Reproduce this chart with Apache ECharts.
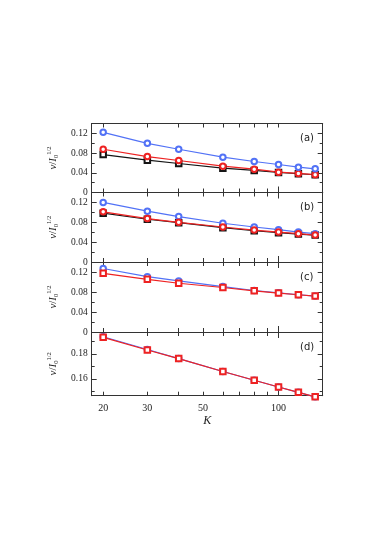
<!DOCTYPE html>
<html>
<head>
<meta charset="utf-8">
<script src="https://cdn.jsdelivr.net/npm/echarts@6/dist/echarts.min.js"></script>
<style>
  html, body { margin: 0; padding: 0; background: #fff; }
  #chart { width: 381px; height: 539px; }
</style>
</head>
<body>
<div id="chart"></div>
<script>
// K values (log x axis)
const K = [20, 30, 40, 60, 80, 100, 120, 140];
const xTicks = [20, 30, 40, 50, 60, 70, 80, 90, 100];
const xLabels = [20, 30, 50, 100];

// panel (a)
const blueA = [0.122, 0.0998, 0.0877, 0.0716, 0.0629, 0.0568, 0.0514, 0.0481];
const redA = [0.0877, 0.0729, 0.0649, 0.0534, 0.0474, 0.0413, 0.0387, 0.0362];
const blackA = [0.077, 0.0655, 0.0588, 0.0494, 0.0447, 0.0407, 0.038, 0.036];
// panel (b)
const blueB = [0.12, 0.1024, 0.0915, 0.078, 0.0705, 0.0651, 0.0603, 0.057];
const redB = [0.101, 0.0875, 0.08, 0.0705, 0.0644, 0.0603, 0.057, 0.0542];
const blackB = [0.0983, 0.0861, 0.0793, 0.0692, 0.063, 0.059, 0.0563, 0.0542];
// panel (c)
const blueC = [0.127, 0.1107, 0.1021, 0.0909, 0.083, 0.0784, 0.0745, 0.0718];
const redC = [0.1173, 0.1054, 0.0975, 0.089, 0.0824, 0.0778, 0.0745, 0.0718];
// panel (d)
const blueD = [0.1937, 0.1835, 0.1762, 0.1659, 0.1589, 0.1535, 0.1492, 0.1456];
const redD = [0.1932, 0.1831, 0.1762, 0.1659, 0.1589, 0.1535, 0.1492, 0.1456];

// y ticks
const yMajorABC = [0, 0.04, 0.08, 0.12];
const yMinorABC = [0.02, 0.06, 0.10, 0.14];
const yMajorD = [0.16, 0.18];
const yMinorD = [0.15, 0.17, 0.19];

const BLUE = '#5272f6';
const RED = '#ee2222';
const BLACK = '#151515';
const AX = '#333333';
const SERIF = '"Liberation Serif", "DejaVu Serif", serif';

// panel layout (px)
const panels = [
  { top: 123.5, height: 69, min: 0, max: 0.14, major: yMajorABC, minor: yMinorABC, tag: '(a)',
    lines: [[blackA, BLACK, 'emptyRect'], [redA, RED, 'emptyCircle'], [blueA, BLUE, 'emptyCircle']] },
  { top: 192.5, height: 69.5, min: 0, max: 0.14, major: yMajorABC, minor: yMinorABC, tag: '(b)',
    lines: [[blackB, BLACK, 'emptyRect'], [blueB, BLUE, 'emptyCircle'], [redB, RED, 'emptyCircle']] },
  { top: 262, height: 70, min: 0, max: 0.14, major: yMajorABC, minor: yMinorABC, tag: '(c)',
    lines: [[blueC, BLUE, 'emptyCircle'], [redC, RED, 'emptyRect']] },
  { top: 332, height: 63.7, min: 0.1465, max: 0.1975, major: yMajorD, minor: yMinorD, tag: '(d)',
    lines: [[blueD, BLUE, 'emptyCircle'], [redD, RED, 'emptyRect']] }
];

const LEFT = 91.7, WIDTH = 231;

const grid = [], xAxis = [], yAxis = [], series = [], graphic = [];

function yFmt (v) {
  if (v === 0) return '0';
  return v.toFixed(2);
}

panels.forEach((p, i) => {
  const last = i === panels.length - 1;
  grid.push({ left: LEFT, top: p.top, width: WIDTH, height: p.height, show: false, containLabel: false });

  // bottom x axis
  const xb = xAxis.length;
  xAxis.push({
    type: 'log', logBase: 10, min: 18, max: 150, gridIndex: i, position: 'bottom',
    axisLine: { onZero: false, lineStyle: { color: AX, width: 1 } },
    axisTick: { inside: true, length: 4, customValues: xTicks, lineStyle: { color: AX } },
    axisLabel: { show: last, customValues: xLabels, margin: 8, fontFamily: SERIF, fontSize: 10, color: '#222' },
    splitLine: { show: false },
    name: last ? 'K' : '', nameLocation: 'middle', nameGap: 17,
    nameTextStyle: { fontFamily: SERIF, fontStyle: 'italic', fontSize: 12, color: '#222' }
  });
  // top x axis
  xAxis.push({
    type: 'log', logBase: 10, min: 18, max: 150, gridIndex: i, position: 'top',
    axisLine: { onZero: false, lineStyle: { color: AX, width: 1 } },
    axisTick: { inside: true, length: 4, customValues: xTicks, lineStyle: { color: AX } },
    axisLabel: { show: false },
    splitLine: { show: false }
  });
  // longer ticks at 100
  ['bottom', 'top'].forEach(pos => {
    xAxis.push({
      type: 'log', logBase: 10, min: 18, max: 150, gridIndex: i, position: pos,
      axisLine: { show: false },
      axisTick: { inside: true, length: 6, customValues: [100], lineStyle: { color: AX } },
      axisLabel: { show: false },
      splitLine: { show: false }
    });
  });

  // left major y axis
  const yl = yAxis.length;
  yAxis.push({
    type: 'value', min: p.min, max: p.max, gridIndex: i, position: 'left',
    axisLine: { onZero: false, lineStyle: { color: AX, width: 1 } },
    axisTick: { inside: true, length: 5, customValues: p.major, lineStyle: { color: AX } },
    axisLabel: { customValues: p.major, formatter: yFmt, margin: 4, fontFamily: SERIF, fontSize: 9.5, color: '#222' },
    splitLine: { show: false },
    name: '{v|ν}{s|/}{i|I}{sub|0}{sup|1/2}',
    nameLocation: 'middle', nameGap: 22, nameRotate: 90,
    nameTextStyle: {
      rich: {
        v: { fontFamily: SERIF, fontStyle: 'italic', fontSize: 11, color: '#222', lineHeight: 14 },
        s: { fontFamily: SERIF, fontSize: 11, color: '#222', lineHeight: 14 },
        i: { fontFamily: SERIF, fontStyle: 'italic', fontSize: 11, color: '#222', lineHeight: 14 },
        sub: { fontFamily: SERIF, fontSize: 6.5, color: '#222', verticalAlign: 'bottom', lineHeight: 14 },
        sup: { fontFamily: SERIF, fontSize: 6.5, color: '#222', verticalAlign: 'top', lineHeight: 14 }
      }
    }
  });
  // left minor ticks
  yAxis.push({
    type: 'value', min: p.min, max: p.max, gridIndex: i, position: 'left',
    axisLine: { show: false },
    axisTick: { inside: true, length: 3, customValues: p.minor, lineStyle: { color: AX } },
    axisLabel: { show: false }, splitLine: { show: false }
  });
  // right major / minor ticks
  yAxis.push({
    type: 'value', min: p.min, max: p.max, gridIndex: i, position: 'right',
    axisLine: { onZero: false, lineStyle: { color: AX, width: 1 } },
    axisTick: { inside: true, length: 5, customValues: p.major, lineStyle: { color: AX } },
    axisLabel: { show: false }, splitLine: { show: false }
  });
  yAxis.push({
    type: 'value', min: p.min, max: p.max, gridIndex: i, position: 'right',
    axisLine: { show: false },
    axisTick: { inside: true, length: 3, customValues: p.minor, lineStyle: { color: AX } },
    axisLabel: { show: false }, splitLine: { show: false }
  });

  p.lines.forEach(([vals, color, symbol]) => {
    series.push({
      type: 'line', xAxisIndex: xb, yAxisIndex: yl,
      data: K.map((k, j) => [k, vals[j]]),
      symbol: symbol, symbolSize: 5.5, showSymbol: true,
      clip: false,
      lineStyle: { color: color, width: 1.2 },
      itemStyle: { color: color, borderColor: color, borderWidth: 0.8 },
      animation: false, silent: true
    });
  });

  graphic.push({
    type: 'text', left: 300, top: p.top + 10,
    style: { text: p.tag, font: '10px "DejaVu Sans", sans-serif', fill: '#222' }
  });
});

const chart = echarts.init(document.getElementById('chart'), null, { renderer: 'canvas' });
chart.setOption({
  backgroundColor: '#fff',
  animation: false,
  grid, xAxis, yAxis, series, graphic
});
</script>
</body>
</html>
